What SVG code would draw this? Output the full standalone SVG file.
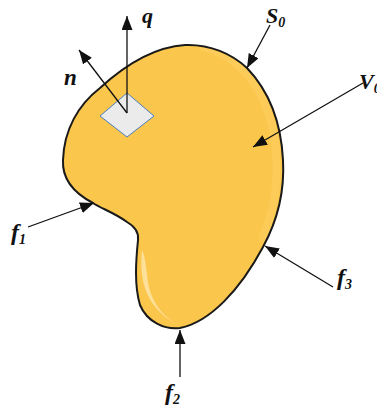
<svg xmlns="http://www.w3.org/2000/svg" width="377" height="411" viewBox="0 0 377 411">
<style>
.lbl{font-family:"Liberation Serif","DejaVu Serif",serif;font-weight:bold;font-style:italic;fill:#111}
.sub{font-family:"Liberation Serif","DejaVu Serif",serif;font-weight:bold;font-style:italic;fill:#111}
.arr{stroke:#111;stroke-width:1.3;fill:none;marker-end:url(#ah)}
</style>
<defs>
<marker id="ah" markerUnits="userSpaceOnUse" markerWidth="16" markerHeight="12" refX="14" refY="5.5" orient="auto">
<path d="M0,0 L14,5.5 L0,11 Z" fill="#111"/>
</marker>
<clipPath id="bc"><path d="M185,45 C210,44 232,54 247,68 C268,90 281,120 283,160 C285,195 275,225 263,247 C240,290 210,322 180,328 C165,330 147,322 140,305 C134,285 136,260 138,240 C139,232 134,226 127,222 C115,213 100,208 93,203 C72,192 62,178 63,160 C64,130 78,105 100,88 C125,65 155,47 185,45 Z"/></clipPath>
</defs>
<g id="body">
<path d="M185,45 C210,44 232,54 247,68 C268,90 281,120 283,160 C285,195 275,225 263,247 C240,290 210,322 180,328 C165,330 147,322 140,305 C134,285 136,260 138,240 C139,232 134,226 127,222 C115,213 100,208 93,203 C72,192 62,178 63,160 C64,130 78,105 100,88 C125,65 155,47 185,45 Z" fill="#FBC64C"/>
<path d="M200,46 C240,55 270,90 276,150 C279,190 272,215 262,240" fill="none" stroke="#FDCE5E" stroke-width="8" clip-path="url(#bc)" opacity="0.7"/>
<path d="M142,250 C139,280 145,306 176,324 C160,314 151,300 148,282 C146,266 145,256 142,250 Z" fill="#FDE09A"/>
<path d="M185,45 C210,44 232,54 247,68 C268,90 281,120 283,160 C285,195 275,225 263,247 C240,290 210,322 180,328 C165,330 147,322 140,305 C134,285 136,260 138,240 C139,232 134,226 127,222 C115,213 100,208 93,203 C72,192 62,178 63,160 C64,130 78,105 100,88 C125,65 155,47 185,45 Z" fill="none" stroke="#1a1a1a" stroke-width="2"/>
</g>
<g id="element">
<path d="M127,93 L154,116 L127,137 L100,116 Z" fill="#EBEBEB" stroke="#4A7EC0" stroke-width="1"/>
</g>
<g id="connectors">
<line class="arr" x1="127" y1="113" x2="127" y2="16"/>
<line class="arr" x1="127" y1="113" x2="79" y2="50"/>
<line class="arr" x1="270" y1="25" x2="247" y2="68"/>
<line class="arr" x1="363" y1="83" x2="253" y2="147"/>
<line class="arr" x1="28" y1="227" x2="94" y2="203"/>
<line class="arr" x1="180" y1="377" x2="180" y2="330"/>
<line class="arr" x1="333" y1="287" x2="265" y2="246"/>
</g>
<g id="labels">
<text class="lbl" x="142" y="23" font-size="22">q</text>
<text class="lbl" x="64" y="85" font-size="23">n</text>
<text class="lbl" x="266" y="23" font-size="22">S<tspan class="sub" font-size="14" dy="4">0</tspan></text>
<text class="lbl" x="359" y="89" font-size="22">V<tspan class="sub" font-size="14" dy="4">0</tspan></text>
<text class="lbl" x="11" y="240" font-size="24">f<tspan class="sub" font-size="14" dy="4">1</tspan></text>
<text class="lbl" x="165" y="400" font-size="24">f<tspan class="sub" font-size="14" dy="4">2</tspan></text>
<text class="lbl" x="337" y="285" font-size="24">f<tspan class="sub" font-size="14" dy="4">3</tspan></text>
</g>
</svg>
